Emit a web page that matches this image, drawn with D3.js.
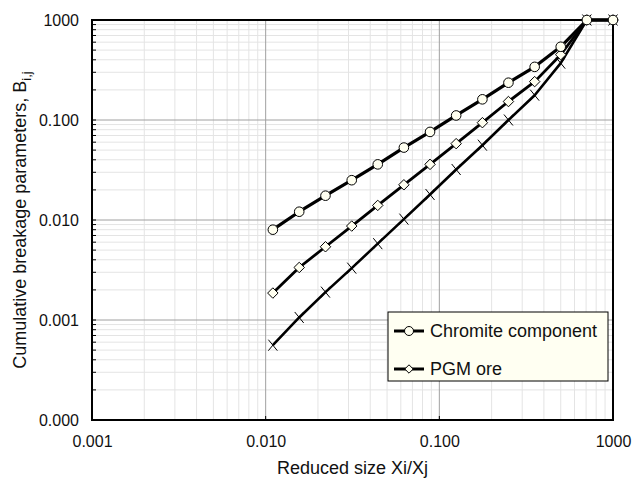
<!DOCTYPE html>
<html>
<head>
<meta charset="utf-8">
<script src="https://cdn.jsdelivr.net/npm/d3@7"></script>
<style>
  body { margin: 0; background: #fff; }
  svg { font-family: "Liberation Sans", Arial, sans-serif; }
</style>
</head>
<body>
<div id="chart"></div>
<script>
// reduced sizes (x) and the three B_ij curves
var xValues = [0.0110, 0.0156, 0.0221, 0.0313, 0.0442, 0.0625, 0.0884, 0.125, 0.177, 0.25, 0.354, 0.5, 0.707, 1.0];
var chromite = [0.0080, 0.0121, 0.0175, 0.025, 0.036, 0.053, 0.076, 0.111, 0.161, 0.236, 0.34, 0.54, 1, 1];
var pgmOre = [0.00186, 0.00335, 0.0054, 0.0087, 0.0140, 0.0225, 0.036, 0.058, 0.094, 0.153, 0.242, 0.45, 1, 1];
var thirdCurve = [0.00056, 0.00106, 0.00190, 0.0033, 0.0058, 0.0102, 0.0180, 0.032, 0.056, 0.100, 0.177, 0.37, 1, 1];

var xTicks = [0.001, 0.01, 0.1, 1];
var xTickLabels = ["0.001", "0.010", "0.100", "1000"];
var yTicks = [0.0001, 0.001, 0.01, 0.1, 1];
var yTickLabels = ["0.000", "0.001", "0.010", "0.100", "1000"];
var legendNames = ["Chromite component", "PGM ore"];

var width = 632, height = 478;
var margin = {top: 20, right: 19, bottom: 58, left: 92};

var svg = d3.select("#chart").append("svg")
    .attr("width", width)
    .attr("height", height);

var x = d3.scaleLog().domain([0.001, 1]).range([margin.left, width - margin.right]);
var y = d3.scaleLog().domain([0.0001, 1]).range([height - margin.bottom, margin.top]);

// minor + major grid
var xMinor = [], yMinor = [];
[0.001, 0.01, 0.1].forEach(function(d) {
    for (var k = 2; k <= 9; k++) xMinor.push(d * k);
});
[0.0001, 0.001, 0.01, 0.1].forEach(function(d) {
    for (var k = 2; k <= 9; k++) yMinor.push(d * k);
});

var grid = svg.append("g");
grid.selectAll(".xm").data(xMinor).enter().append("line")
    .attr("x1", x).attr("x2", x)
    .attr("y1", y(0.0001)).attr("y2", y(1))
    .attr("stroke", "#e4e4e4").attr("stroke-width", 1);
grid.selectAll(".ym").data(yMinor).enter().append("line")
    .attr("y1", y).attr("y2", y)
    .attr("x1", x(0.001)).attr("x2", x(1))
    .attr("stroke", "#e4e4e4").attr("stroke-width", 1);
grid.selectAll(".xM").data(xTicks.slice(1, 3)).enter().append("line")
    .attr("x1", x).attr("x2", x)
    .attr("y1", y(0.0001)).attr("y2", y(1))
    .attr("stroke", "#a0a0a0").attr("stroke-width", 1);
grid.selectAll(".yM").data(yTicks.slice(1, 4)).enter().append("line")
    .attr("y1", y).attr("y2", y)
    .attr("x1", x(0.001)).attr("x2", x(1))
    .attr("stroke", "#a0a0a0").attr("stroke-width", 1);

// axes
var xAxis = d3.axisBottom(x)
    .tickValues(xTicks)
    .tickSize(0)
    .tickPadding(16)
    .tickFormat(function(d, i) { return xTickLabels[i]; });
var yAxis = d3.axisLeft(y)
    .tickValues(yTicks)
    .tickSize(0)
    .tickPadding(13)
    .tickFormat(function(d, i) { return yTickLabels[i]; });

var gx = svg.append("g")
    .attr("transform", "translate(0," + y(0.0001) + ")")
    .call(xAxis);
var gy = svg.append("g")
    .attr("transform", "translate(" + x(0.001) + ",0)")
    .call(yAxis);
[gx, gy].forEach(function(g) {
    g.select(".domain").remove();
    g.selectAll("text").attr("font-size", 16).attr("fill", "#111")
        .style("font-family", "'Liberation Sans', Arial, sans-serif");
});

// small inward ticks
svg.append("g").selectAll("line").data(yMinor.concat(yTicks)).enter().append("line")
    .attr("x1", x(0.001)).attr("x2", x(0.001) + 4)
    .attr("y1", y).attr("y2", y)
    .attr("stroke", "#000").attr("stroke-width", 1);
svg.append("g").selectAll("line").data(xTicks).enter().append("line")
    .attr("x1", x).attr("x2", x)
    .attr("y1", y(0.0001)).attr("y2", y(0.0001) - 4)
    .attr("stroke", "#000").attr("stroke-width", 1);

// frame
svg.append("rect")
    .attr("x", x(0.001)).attr("y", y(1))
    .attr("width", x(1) - x(0.001))
    .attr("height", y(0.0001) - y(1))
    .attr("fill", "none").attr("stroke", "#000").attr("stroke-width", 2);

// curves
var line = d3.line()
    .x(function(d, i) { return x(xValues[i]); })
    .y(function(d) { return y(d); });

var ivory = "#fffff0";

function drawLine(vals, w) {
    svg.append("path")
        .datum(vals)
        .attr("d", line)
        .attr("fill", "none")
        .attr("stroke", "#000")
        .attr("stroke-width", w)
        .attr("stroke-linejoin", "round");
}

drawLine(thirdCurve, 2.6);
drawLine(pgmOre, 2.8);
drawLine(chromite, 3.2);

// x markers
svg.append("g").selectAll("path").data(thirdCurve).enter().append("path")
    .attr("transform", function(d, i) { return "translate(" + x(xValues[i]) + "," + y(d) + ")"; })
    .attr("d", "M-4.5,-5.5L4.5,5.5M-4.5,5.5L4.5,-5.5")
    .attr("stroke", "#000").attr("stroke-width", 1);

// diamonds
var diamond = d3.symbol().type(d3.symbolDiamond2).size(70);
svg.append("g").selectAll("path").data(pgmOre).enter().append("path")
    .attr("transform", function(d, i) { return "translate(" + x(xValues[i]) + "," + y(d) + ")"; })
    .attr("d", diamond)
    .attr("fill", ivory).attr("stroke", "#000").attr("stroke-width", 1);

// circles
svg.append("g").selectAll("circle").data(chromite).enter().append("circle")
    .attr("cx", function(d, i) { return x(xValues[i]); })
    .attr("cy", y)
    .attr("r", 4.8)
    .attr("fill", ivory).attr("stroke", "#000").attr("stroke-width", 1);

// legend
var lg = svg.append("g").attr("transform", "translate(388,312)");
lg.append("rect")
    .attr("width", 220).attr("height", 69)
    .attr("fill", "#fffff2").attr("stroke", "#000").attr("stroke-width", 1);
legendNames.forEach(function(name, i) {
    var ly = 19 + i * 38;
    lg.append("line")
        .attr("x1", 6).attr("x2", 36).attr("y1", ly).attr("y2", ly)
        .attr("stroke", "#000").attr("stroke-width", 3);
    if (i === 0) {
        lg.append("circle").attr("cx", 21).attr("cy", ly).attr("r", 4.5)
            .attr("fill", ivory).attr("stroke", "#000").attr("stroke-width", 1);
    } else {
        lg.append("path").attr("transform", "translate(21," + ly + ")")
            .attr("d", d3.symbol().type(d3.symbolDiamond2).size(45))
            .attr("fill", ivory).attr("stroke", "#000").attr("stroke-width", 1);
    }
    lg.append("text")
        .attr("x", 42).attr("y", ly)
        .attr("dy", "0.35em")
        .attr("font-size", 18)
        .attr("fill", "#111")
        .text(name);
});

// axis titles
svg.append("text")
    .attr("x", (x(0.001) + x(1)) / 2)
    .attr("y", 474)
    .attr("text-anchor", "middle")
    .attr("font-size", 18)
    .attr("fill", "#111")
    .text("Reduced size Xi/Xj");

var yt = svg.append("text")
    .attr("transform", "translate(26," + ((y(0.0001) + y(1)) / 2) + ") rotate(-90)")
    .attr("text-anchor", "middle")
    .attr("font-size", 18)
    .attr("fill", "#111");
yt.append("tspan").text("Cumulative breakage parameters, B");
yt.append("tspan").attr("font-size", 13).attr("dy", 5).text("i,j");
</script>
</body>
</html>
